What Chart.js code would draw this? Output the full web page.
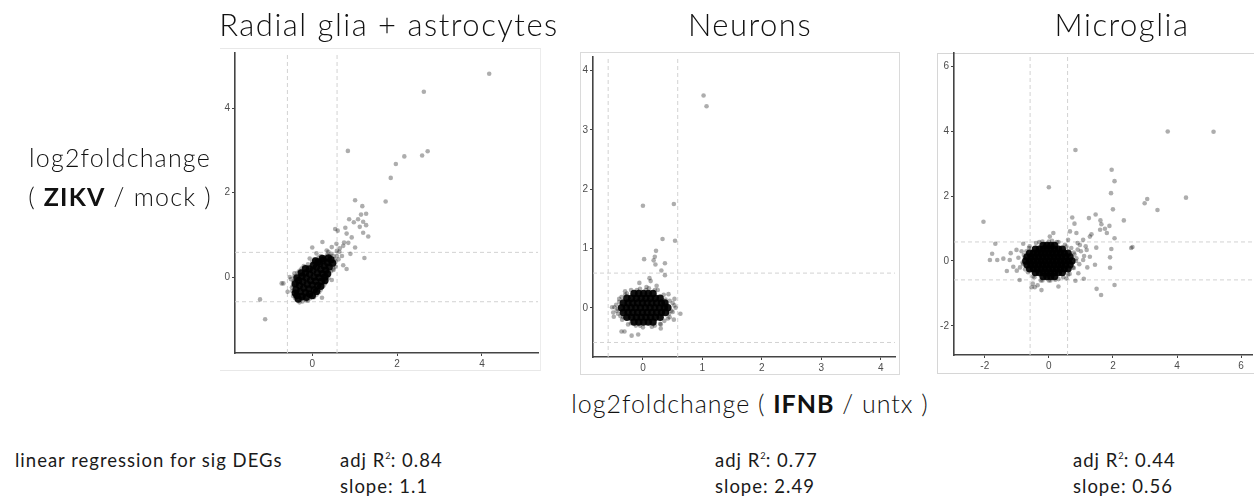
<!DOCTYPE html>
<html>
<head>
<meta charset="utf-8">
<script src="https://cdn.jsdelivr.net/npm/chart.js@4.4.0/dist/chart.umd.min.js"></script>
<style>
  html, body { margin:0; padding:0; background:#fff; width:1254px; height:500px; overflow:hidden; }
  body { position:relative; font-family: Lato, "Open Sans", sans-serif; font-weight:300; color:#111; }
  .t { position:absolute; white-space:nowrap; line-height:1; }
  .small { font-weight:400; color:#1a1a1a; }
  .frame { position:absolute; box-sizing:border-box; }
  canvas { position:absolute; }
  b { font-weight:700; }
  sup { font-size:0.5em; vertical-align:0.9em; line-height:0; letter-spacing:0; }
</style>
</head>
<body>
<div class="frame" style="left:220px;top:48px;width:321px;height:323px;border-top:1px solid #e8e8e8;border-bottom:1px solid #e8e8e8;border-right:1px solid #ececec;"></div>
<div class="frame" style="left:580px;top:52px;width:320px;height:323px;border:1px solid #dadada;"></div>
<div class="frame" style="left:937px;top:53px;width:330px;height:321px;border:1px solid #d6d6d6;"></div>

<canvas id="c1"></canvas>
<canvas id="c2"></canvas>
<canvas id="c3"></canvas>

<div class="t" id="title1" style="font-size:31px;letter-spacing:1.5px;"></div>
<div class="t" id="title2" style="font-size:31px;letter-spacing:1.5px;"></div>
<div class="t" id="title3" style="font-size:31px;letter-spacing:1.5px;"></div>

<div class="t" style="left:0;width:240px;text-align:center;top:145px;font-size:25px;letter-spacing:1.2px;">log2foldchange</div>
<div class="t" style="left:0;width:240px;text-align:center;top:184px;font-size:25px;letter-spacing:1.2px;">( <b>ZIKV</b> / mock )</div>
<div class="t" style="left:550px;width:400px;text-align:center;top:391px;font-size:25px;letter-spacing:1px;">log2foldchange ( <b>IFNB</b> / untx )</div>

<div class="t small" style="left:15px;top:451px;font-size:18.5px;letter-spacing:1px;">linear regression for sig DEGs</div>
<div id="stats"></div>

<script>
// ---------------- data ----------------
const panelTitles = ["Radial glia + astrocytes", "Neurons", "Microglia"];
const adjR2 = ["0.84", "0.77", "0.44"];
const slopes = ["1.1", "2.49", "0.56"];
const cutoff = 0.585; // dashed threshold lines at ±log2(1.5)

// Radial glia + astrocytes
const radialXTicks = [0, 2, 4];
const radialYTicks = [0, 2, 4];
const radialCore = [
  [-0.36,-0.44],[-0.28,-0.35],[-0.2,-0.26],[-0.12,-0.17],[-0.04,-0.08],[0.04,0.0],[0.12,0.09],[0.2,0.18],[0.28,0.26],[0.36,0.34],[0.44,0.41],
  [-0.38,-0.3],[-0.3,-0.2],[-0.22,-0.11],[-0.14,-0.02],[-0.06,0.07],[0.02,0.16],[0.1,0.24],[0.18,0.32],[0.26,0.4],
  [-0.24,-0.46],[-0.16,-0.37],[-0.08,-0.28],[0.0,-0.19],[0.08,-0.1],[0.16,-0.01],[0.24,0.08],[0.32,0.16],[0.4,0.24],[0.48,0.33],
  [-0.32,-0.08],[-0.24,0.02],[-0.16,0.1],[-0.07,0.19],[0.03,0.28],
  [-0.06,-0.4],[0.05,-0.3],[0.13,-0.2],[0.22,-0.1],[0.3,0.0],
  [-0.33,-0.52],[-0.14,-0.48],[-0.4,-0.38],[0.38,0.45],[0.14,0.36],
  [-0.4,-0.16],[-0.36,-0.02],[-0.26,0.1],[-0.16,0.2],[0.08,0.38],[0.24,0.44],
  [0.36,0.08],[0.3,-0.08],[0.2,-0.22],[0.1,-0.34],[0.0,-0.44]
];
const radialPoints = [
  [4.17,4.82],[2.63,4.39],[2.72,2.98],[2.59,2.88],[2.17,2.86],[1.97,2.68],[1.85,2.35],[1.73,1.79],[0.84,2.99],
  [1.01,1.82],[1.18,1.68],[1.27,1.5],[1.15,1.48],[1.08,1.37],[1.2,1.31],[1.27,1.23],[0.87,1.37],[0.98,1.3],[1.12,1.19],
  [1.32,0.96],[1.2,1.05],[0.78,1.17],[0.54,1.14],[0.6,1.1],[0.81,1.03],[0.93,0.94],[0.75,0.82],[0.85,0.81],[1.01,0.7],
  [0.73,0.74],[0.9,0.55],[1.23,0.45],[0.65,0.68],[0.57,0.79],[0.46,0.71],[0.34,0.63],[0.24,0.83],[0.0,0.7],[0.73,0.28],
  [0.81,0.19],[0.5,0.17],[0.46,-0.07],[0.23,-0.49],[-0.23,-0.58],[-0.21,-0.47],[-0.58,-0.35],[-0.68,-0.15],[-0.72,-0.15],
  [-0.53,0.0],[-1.23,-0.53],[-1.11,-1.0],[0.14,-0.31],[-0.38,-0.19],[-0.42,0.09],[-0.06,0.44],[0.1,0.56],
  [-0.45,-0.2],[-0.42,0.02],[-0.35,0.1],[-0.25,0.2],[-0.1,0.3],[0.05,0.42],[0.2,0.5],[0.35,0.52],[0.5,0.5],[0.55,0.36],
  [0.5,0.2],[0.4,0.06],[0.3,-0.15],[0.2,-0.3],[0.1,-0.42],[-0.05,-0.5],[-0.15,-0.55],[-0.3,-0.6],[-0.45,-0.45],[-0.47,-0.33],
  [0.45,0.55],[0.58,0.5],[0.62,0.42],[0.38,0.6],[0.28,0.45],[0.55,0.25],[-0.5,-0.05],[-0.3,0.15],
  [-0.48,-0.25],[-0.44,-0.1],[-0.2,0.26],[0.0,0.36],[0.15,0.46],[0.42,0.5],[0.52,0.42],[0.44,0.14],[0.38,-0.02],
  [0.26,-0.22],[0.16,-0.36],[0.04,-0.48],[-0.1,-0.56],[-0.26,-0.52],[-0.4,-0.5],[0.64,0.6],[0.7,0.5],[0.58,0.62]
];

// Neurons
const neuronXTicks = [0, 1, 2, 3, 4];
const neuronYTicks = [0, 1, 2, 3, 4];
const neuronCore = [
  [-0.15,0.24],[-0.07,0.24],[0.01,0.24],[0.09,0.24],[0.17,0.24],
  [-0.27,0.16],[-0.19,0.16],[-0.11,0.16],[-0.03,0.16],[0.05,0.16],[0.13,0.16],[0.21,0.16],[0.29,0.16],
  [-0.33,0.08],[-0.25,0.08],[-0.17,0.08],[-0.09,0.08],[-0.01,0.08],[0.07,0.08],[0.15,0.08],[0.23,0.08],[0.31,0.08],[0.37,0.08],
  [-0.36,0.0],[-0.28,0.0],[-0.2,0.0],[-0.12,0.0],[-0.04,0.0],[0.04,0.0],[0.12,0.0],[0.2,0.0],[0.28,0.0],[0.36,0.0],[0.42,0.0],
  [-0.33,-0.08],[-0.25,-0.08],[-0.17,-0.08],[-0.09,-0.08],[-0.01,-0.08],[0.07,-0.08],[0.15,-0.08],[0.23,-0.08],[0.31,-0.08],[0.38,-0.08],
  [-0.27,-0.16],[-0.19,-0.16],[-0.11,-0.16],[-0.03,-0.16],[0.05,-0.16],[0.13,-0.16],[0.21,-0.16],[0.29,-0.16],
  [-0.15,-0.24],[-0.07,-0.24],[0.01,-0.24],[0.09,-0.24],[0.17,-0.24]
];
const neuronPoints = [
  [1.02,3.58],[1.07,3.4],[0.0,1.72],[0.52,1.75],[0.33,1.16],[0.54,1.13],[0.22,0.96],[0.02,0.82],[0.2,0.86],[0.18,0.8],
  [0.37,0.75],[0.21,0.73],[0.31,0.63],[0.37,0.55],[0.11,0.5],[0.13,0.45],[-0.06,0.42],[0.06,0.35],[0.23,0.37],
  [0.63,-0.1],[0.52,-0.2],[-0.08,-0.45],[-0.19,-0.47],[-0.31,-0.4],[-0.36,-0.4],[-0.52,0.01],[-0.48,0.01],[-0.49,-0.15],
  [0.53,0.15],[0.53,0.04],[0.43,0.23],[0.5,-0.07],[-0.36,0.18],[-0.27,0.24],[0.29,-0.27],[0.45,-0.16],
  [-0.45,0.05],[-0.42,-0.1],[-0.4,0.15],[-0.3,0.28],[-0.2,0.3],[0.1,0.33],[0.25,0.3],[0.35,0.22],[0.45,0.12],[0.48,-0.05],
  [0.42,-0.18],[0.3,-0.28],[0.15,-0.32],[0.0,-0.33],[-0.12,-0.3],[-0.25,-0.28],[-0.35,-0.2],[-0.44,-0.05],[0.5,0.08],
  [0.55,0.0],[-0.5,-0.08],[-0.05,0.32],[0.3,-0.35],
  [-0.4,0.1],[-0.38,-0.14],[-0.3,0.22],[-0.1,0.3],[0.2,0.3],[0.38,0.14],[0.44,-0.1],[0.36,-0.22],[0.2,-0.3],
  [-0.05,-0.3],[-0.2,-0.26],[-0.33,-0.16],[0.05,0.3],[0.4,0.05],[-0.42,-0.02]
];

// Microglia
const microXTicks = [-2, 0, 2, 4, 6];
const microYTicks = [-2, 0, 2, 4, 6];
const microCore = [
  [-0.18,0.48],[-0.06,0.48],[0.06,0.48],[0.18,0.48],
  [-0.3,0.36],[-0.18,0.36],[-0.06,0.36],[0.06,0.36],[0.18,0.36],[0.3,0.36],[0.42,0.36],[-0.42,0.36],
  [-0.48,0.24],[-0.36,0.24],[-0.24,0.24],[-0.12,0.24],[0.0,0.24],[0.12,0.24],[0.24,0.24],[0.36,0.24],[0.48,0.24],[0.6,0.24],[-0.6,0.24],
  [-0.68,0.12],[-0.56,0.12],[-0.44,0.12],[-0.32,0.12],[-0.2,0.12],[-0.08,0.12],[0.04,0.12],[0.16,0.12],[0.28,0.12],[0.4,0.12],[0.52,0.12],[0.66,0.12],
  [-0.72,0.0],[-0.6,0.0],[-0.48,0.0],[-0.36,0.0],[-0.24,0.0],[-0.12,0.0],[0.0,0.0],[0.12,0.0],[0.24,0.0],[0.36,0.0],[0.48,0.0],[0.6,0.0],[0.72,0.0],
  [-0.68,-0.12],[-0.56,-0.12],[-0.44,-0.12],[-0.32,-0.12],[-0.2,-0.12],[-0.08,-0.12],[0.04,-0.12],[0.16,-0.12],[0.28,-0.12],[0.4,-0.12],[0.52,-0.12],[0.66,-0.12],
  [-0.6,-0.24],[-0.48,-0.24],[-0.36,-0.24],[-0.24,-0.24],[-0.12,-0.24],[0.0,-0.24],[0.12,-0.24],[0.24,-0.24],[0.36,-0.24],[0.48,-0.24],[0.6,-0.24],
  [-0.42,-0.36],[-0.3,-0.36],[-0.18,-0.36],[-0.06,-0.36],[0.06,-0.36],[0.18,-0.36],[0.3,-0.36],[0.42,-0.36],
  [-0.18,-0.48],[-0.06,-0.48],[0.06,-0.48],[0.18,-0.48]
];
const microPoints = [
  [3.71,3.99],[5.14,3.98],[0.83,3.42],[0.0,2.27],[1.96,2.81],[2.05,2.46],[1.94,2.09],[2.0,1.59],[4.28,1.95],[3.07,1.91],
  [2.99,1.78],[3.39,1.57],[2.34,1.25],[-2.04,1.21],[0.73,1.34],[0.8,1.15],[1.25,1.32],[1.46,1.43],[1.61,1.25],[1.64,1.13],
  [1.6,0.96],[1.75,0.99],[1.89,1.08],[1.81,0.86],[1.33,0.82],[1.28,0.75],[2.05,0.7],[1.48,0.41],[1.95,0.37],[2.61,0.43],
  [2.57,0.4],[1.91,0.11],[1.91,-0.21],[1.44,-0.12],[1.09,-0.55],[0.83,-0.61],[0.3,-0.79],[1.49,-0.86],[1.63,-1.05],[2.05,-0.74],
  [-1.67,0.53],[-1.77,0.22],[-1.84,0.03],[-1.61,0.03],[-1.42,0.07],[-1.31,-0.31],[-0.91,-0.59],[-0.23,-0.9],[-0.44,-0.81],
  [-0.54,-0.81],[-1.19,0.24],[-1.01,0.34],[-0.8,0.53],[0.14,0.86],[0.03,0.75],[0.66,0.91],[0.86,0.86],[1.07,0.65],[0.97,0.49],
  [1.18,0.34],[1.28,0.13],[1.07,0.03],[0.92,-0.38],[0.55,-0.54],[-1.11,-0.18],[-1.22,0.03],
  [-0.75,0.1],[-0.8,-0.1],[-0.7,0.3],[-0.6,0.45],[-0.4,0.55],[-0.2,0.6],[0.1,0.62],[0.3,0.58],[0.5,0.5],[0.7,0.4],
  [0.8,0.2],[0.85,0.0],[0.75,-0.2],[0.65,-0.4],[0.45,-0.5],[0.2,-0.58],[0.0,-0.6],[-0.25,-0.6],[-0.45,-0.5],[-0.65,-0.35],
  [-0.85,0.3],[-0.95,0.1],[1.0,0.3],[0.95,-0.1],[-0.5,-0.7],[-0.35,-0.75],[0.6,0.65],[0.9,0.55],[1.1,0.15],[-1.0,-0.3],
  [-0.82,-0.05],[-0.78,0.18],[-0.62,0.4],[-0.3,0.58],[0.0,0.6],[0.25,0.58],[0.55,0.44],[0.78,0.26],[0.86,0.08],[0.78,-0.22],
  [0.6,-0.42],[0.3,-0.56],[0.05,-0.6],[-0.2,-0.6],[-0.5,-0.48],[-0.74,-0.26],[0.9,0.35],[1.15,0.45],[1.2,-0.2],[-0.9,-0.2]
];

// ---------------- layout (pixel boxes of each plot area) ----------------
const panels = [
  { id:"c1", box:{L:235,R:538,T:53,B:353}, x:[-1.82,5.32], y:[-1.80,5.31], xt:radialXTicks, yt:radialYTicks, core:radialCore, pts:radialPoints, titleCenter:389, statX:340 },
  { id:"c2", box:{L:593,R:895,T:57,B:357}, x:[-0.84,4.24], y:[-0.83,4.23], xt:neuronXTicks, yt:neuronYTicks, core:neuronCore, pts:neuronPoints, titleCenter:750, statX:715 },
  { id:"c3", box:{L:954,R:1252,T:53,B:355}, x:[-2.96,6.34], y:[-2.90,6.41], xt:microXTicks, yt:microYTicks, core:microCore, pts:microPoints, titleCenter:1122, statX:1073 }
];

const YW = 35, XH = 22, PT = 13, PR = 7;
const toXY = a => a.map(p => ({x:p[0], y:p[1]}));
const dashed = (pts) => ({ data: pts, showLine:true, pointRadius:0, borderColor:'#d2d2d2', borderWidth:1, borderDash:[4,3], order:3 });

panels.forEach((p, i) => {
  const cv = document.getElementById(p.id);
  const w = p.box.R - p.box.L + YW + PR;
  const h = p.box.B - p.box.T + PT + XH;
  cv.width = w; cv.height = h;
  cv.style.width = w + 'px'; cv.style.height = h + 'px';
  cv.style.left = (p.box.L - YW) + 'px';
  cv.style.top = (p.box.T - PT) + 'px';

  const axis = (range, ticks, isX) => ({
    type:'linear', min:range[0], max:range[1],
    afterBuildTicks: s => { s.ticks = ticks.map(v => ({value:v})); },
    afterFit: s => { if (isX) s.height = XH; else s.width = YW; },
    grid:{ display:true, drawOnChartArea:false, drawTicks:true, tickLength:3, color:'#444', lineWidth:1 },
    border:{ display:true, color:'#444', width:1.6 },
    ticks:{ font:{family:'Liberation Sans', size:10}, color:'#4d4d4d', padding:2, maxRotation:0, autoSkip:false,
            callback: v => String(v) }
  });

  new Chart(cv, {
    type:'scatter',
    data:{ datasets:[
      dashed([{x:-cutoff,y:p.y[0]},{x:-cutoff,y:p.y[1]}]),
      dashed([{x:cutoff,y:p.y[0]},{x:cutoff,y:p.y[1]}]),
      dashed([{x:p.x[0],y:-cutoff},{x:p.x[1],y:-cutoff}]),
      dashed([{x:p.x[0],y:cutoff},{x:p.x[1],y:cutoff}]),
      { data: toXY(p.pts), pointRadius:2.3, pointBackgroundColor:'rgba(0,0,0,0.32)', pointBorderWidth:0, order:2 },
      { data: toXY(p.core), pointRadius:3.7, pointBackgroundColor:'rgba(0,0,0,0.93)', pointBorderWidth:0, order:1 }
    ]},
    options:{
      responsive:false, animation:false, devicePixelRatio:1,
      layout:{ padding:{top:PT, right:PR, bottom:0, left:0} },
      plugins:{ legend:{display:false}, tooltip:{enabled:false} },
      events:[],
      scales:{ x: axis(p.x, p.xt, true), y: axis(p.y, p.yt, false) }
    }
  });

  const t = document.getElementById('title' + (i+1));
  t.textContent = panelTitles[i];
  t.style.left = (p.titleCenter - 250) + 'px';
  t.style.width = '500px';
  t.style.textAlign = 'center';
  t.style.top = '9px';

  const s = document.getElementById('stats');
  const a = document.createElement('div');
  a.className = 't small'; a.style.left = p.statX + 'px'; a.style.top = '451px'; a.style.fontSize = '18.5px'; a.style.letterSpacing = '1px';
  a.innerHTML = 'adj R<sup>2</sup>: ' + adjR2[i];
  s.appendChild(a);
  const b = document.createElement('div');
  b.className = 't small'; b.style.left = p.statX + 'px'; b.style.top = '477px'; b.style.fontSize = '18.5px'; b.style.letterSpacing = '1px';
  b.textContent = 'slope: ' + slopes[i];
  s.appendChild(b);
});
</script>
</body>
</html>
